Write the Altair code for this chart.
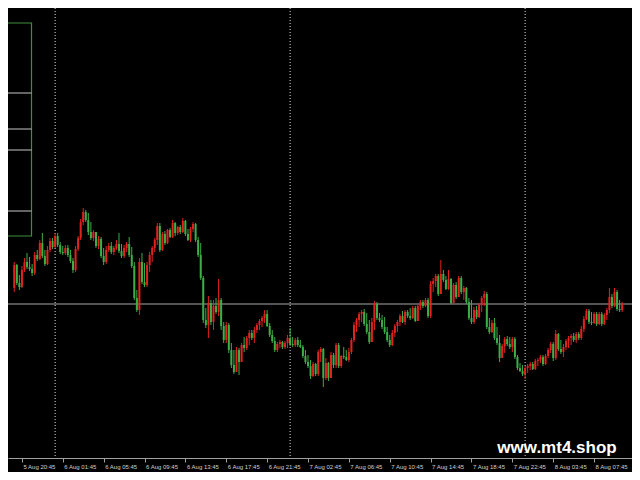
import json
import altair as alt
import pandas as pd

# ---- data (price in chart points; M15 bars) ----
first_open = 192
close = [215,197,193,210,218,213,211,207,225,221,
         237,224,216,230,239,233,244,235,228,227,
         232,225,219,210,231,242,258,268,260,248,
         242,248,234,241,224,218,230,234,228,232,
         236,229,224,232,236,225,214,182,170,218,
         198,195,215,225,232,240,254,230,246,237,
         250,243,257,247,253,248,259,246,240,251,
         256,240,225,202,160,155,177,158,174,168,
         180,154,140,155,130,115,108,130,118,135,
         132,142,147,142,150,155,159,162,166,154,
         145,139,130,136,138,133,137,142,136,135,
         140,135,133,124,118,114,104,116,106,128,
         131,102,117,102,125,115,135,114,124,123,
         120,128,140,155,160,166,168,156,148,138,
         158,176,162,160,153,148,140,135,147,154,
         158,164,158,168,164,162,172,159,174,178,
         174,180,164,196,199,204,186,206,200,191,
         201,177,195,183,202,188,192,178,162,158,
         170,163,175,182,186,153,148,157,142,137,
         122,134,141,136,133,141,123,112,109,106,
         112,114,116,111,119,120,123,116,124,130,
         136,122,146,131,128,133,139,142,144,140,
         146,142,151,161,169,158,157,166,156,166,
         156,165,170,183,174,188,171,170,176]
high = [218,216,205,214,222,227,223,216,228,230,
        240,247,230,234,242,242,247,247,238,234,
        235,235,230,222,234,244,261,272,270,267,
        258,250,248,244,243,232,234,237,238,234,
        240,247,236,235,238,243,233,218,190,222,
        227,217,218,228,234,242,257,257,248,249,
        251,252,260,258,254,255,262,260,251,253,
        258,257,243,237,204,172,184,180,180,182,
        201,182,158,158,157,137,130,133,132,137,
        143,144,150,150,153,157,161,164,170,170,
        157,150,143,138,140,139,139,145,152,143,
        142,143,140,135,130,125,120,118,117,130,
        133,132,122,118,128,127,137,137,125,133,
        130,132,142,158,162,168,170,171,167,160,
        162,179,178,167,165,163,153,145,150,156,
        160,166,169,170,170,172,174,174,176,180,
        180,182,182,199,202,206,206,220,210,204,
        210,202,197,198,204,204,194,193,182,180,
        173,174,177,184,189,188,162,160,162,153,
        145,136,143,144,143,143,143,125,117,115,
        114,116,118,118,121,122,125,125,126,132,
        138,138,150,147,140,136,141,144,146,147,
        148,148,154,164,171,171,168,168,168,168,
        168,167,172,192,186,192,190,180,178]
low = [188,195,190,192,208,211,209,204,205,219,
       220,222,214,215,228,231,232,233,226,225,
       225,223,217,207,208,229,240,255,258,245,
       240,239,232,231,222,215,216,228,226,225,
       230,227,222,222,228,223,212,180,168,165,
       196,193,193,208,218,228,235,228,229,235,
       236,242,242,244,245,246,247,244,239,238,
       248,238,223,200,157,152,142,155,150,166,
       164,150,137,137,127,112,106,108,105,118,
       128,130,135,140,137,147,150,153,157,153,
       143,137,128,128,132,131,131,132,134,133,
       133,133,132,122,116,112,101,103,104,104,
       118,93,100,99,102,112,112,112,112,121,
       119,118,126,138,148,153,158,154,146,136,
       138,150,160,158,151,146,138,133,134,143,
       148,154,157,155,162,160,161,158,159,170,
       172,173,162,162,188,193,184,186,198,190,
       190,176,176,181,183,186,180,176,160,156,
       156,161,162,168,174,151,146,147,140,135,
       118,122,127,134,131,128,121,110,108,104,
       101,107,110,110,110,114,117,114,115,122,
       127,119,120,129,126,123,130,132,135,138,
       137,140,140,148,160,156,155,156,154,155,
       154,155,160,167,172,173,169,168,168]

tick_labels = ["5 Aug 20:45", "6 Aug 01:45", "6 Aug 05:45", "6 Aug 09:45",
               "6 Aug 13:45", "6 Aug 17:45", "6 Aug 21:45", "7 Aug 02:45",
               "7 Aug 06:45", "7 Aug 10:45", "7 Aug 14:45", "7 Aug 18:45",
               "7 Aug 22:45", "8 Aug 03:45", "8 Aug 07:45"]
tick_bars = [3, 19, 35, 51, 67, 83, 99, 115, 131, 147, 163, 179, 195, 211, 227]
day_breaks = [16, 108, 200]
box_levels = [387, 351, 330, 269]
box_price = [244, 457]
box_bars = [-3, 6.76]
watermark = "www.mt4.shop"

# ---- frame ----
n = len(close)
opens = [first_open] + close[:-1]
df = pd.DataFrame({"bar": list(range(n)), "open": opens, "close": close,
                   "high": high, "low": low})
df["dir"] = ["up" if c > o else "down" for o, c in zip(opens, close)]

xsc = alt.Scale(domain=[-0.488, 239.887], nice=False, zero=False)
ysc = alt.Scale(domain=[22, 472], nice=False, zero=False)
col = alt.Color("dir:N", scale=alt.Scale(domain=["up", "down"], range=["#e3211e", "#3cae47"]), legend=None)

label_expr = json.dumps(tick_labels) + "[round((datum.value - 3) / 16)]"
xaxis = alt.Axis(values=tick_bars, labelExpr=label_expr, title=None, grid=False,
                 domainColor="#a0a0a0", tickColor="#a0a0a0", tickSize=4, tickWidth=1,
                 domainWidth=1, labelColor="#d0d0d0", labelFont="Liberation Sans",
                 labelFontSize=6, labelAlign="left", labelOffset=1, labelPadding=1,
                 labelBaseline="top", labelOverlap=False, labelFlush=False, labelBound=False)

def X(field):
    return alt.X(field, type="quantitative", scale=xsc, axis=xaxis)

def Y(field):
    return alt.Y(field, type="quantitative", scale=ysc, axis=None)

base = alt.Chart(df)

wicks = base.mark_rule(strokeWidth=1).encode(x=X("bar"), y=Y("low"), y2="high", color=col)
bodies = base.mark_bar(size=2).encode(x=X("bar"), y=Y("open"), y2="close", color=col)

sep = alt.Chart(pd.DataFrame({"bar": day_breaks})).mark_rule(
    color="#e0e0e0", strokeDash=[1, 2], strokeWidth=1).encode(x=X("bar"))

bid = alt.Chart(pd.DataFrame({"p": [close[-1]]})).mark_rule(
    color="#a8a8a8", strokeWidth=1).encode(y=Y("p"))

box_df = pd.DataFrame({"x0": [box_bars[0]], "x1": [box_bars[1]],
                       "lo": [box_price[0]], "hi": [box_price[1]]})
box = alt.Chart(box_df).mark_rect(fill=None, stroke="#3f8f3f", strokeWidth=1.2, clip=True).encode(
    x=X("x0"), x2="x1", y=Y("lo"), y2="hi")

lev_df = pd.DataFrame({"p": box_levels, "x0": [box_bars[0]] * len(box_levels),
                       "x1": [box_bars[1]] * len(box_levels)})
levels = alt.Chart(lev_df).mark_rule(color="#c8c8c8", strokeWidth=1, clip=True).encode(
    x=X("x0"), x2="x1", y=Y("p"))

wm = alt.Chart(pd.DataFrame({"t": [watermark]})).mark_text(
    font="Liberation Sans", fontWeight="bold", fontSize=17, color="white",
    align="center", baseline="middle").encode(
    text="t:N", x=alt.value(549), y=alt.value(440))

chart = alt.layer(sep, bid, box, levels, wicks, bodies, wm).properties(
    width=624, height=450,
    autosize=alt.AutoSizeParams(type="none"),
    padding={"left": 0, "top": 0, "right": 0, "bottom": 14},
    background="black",
).configure_view(stroke=None)

chart.save("out.html", embed_options={"renderer": "svg", "actions": False})
